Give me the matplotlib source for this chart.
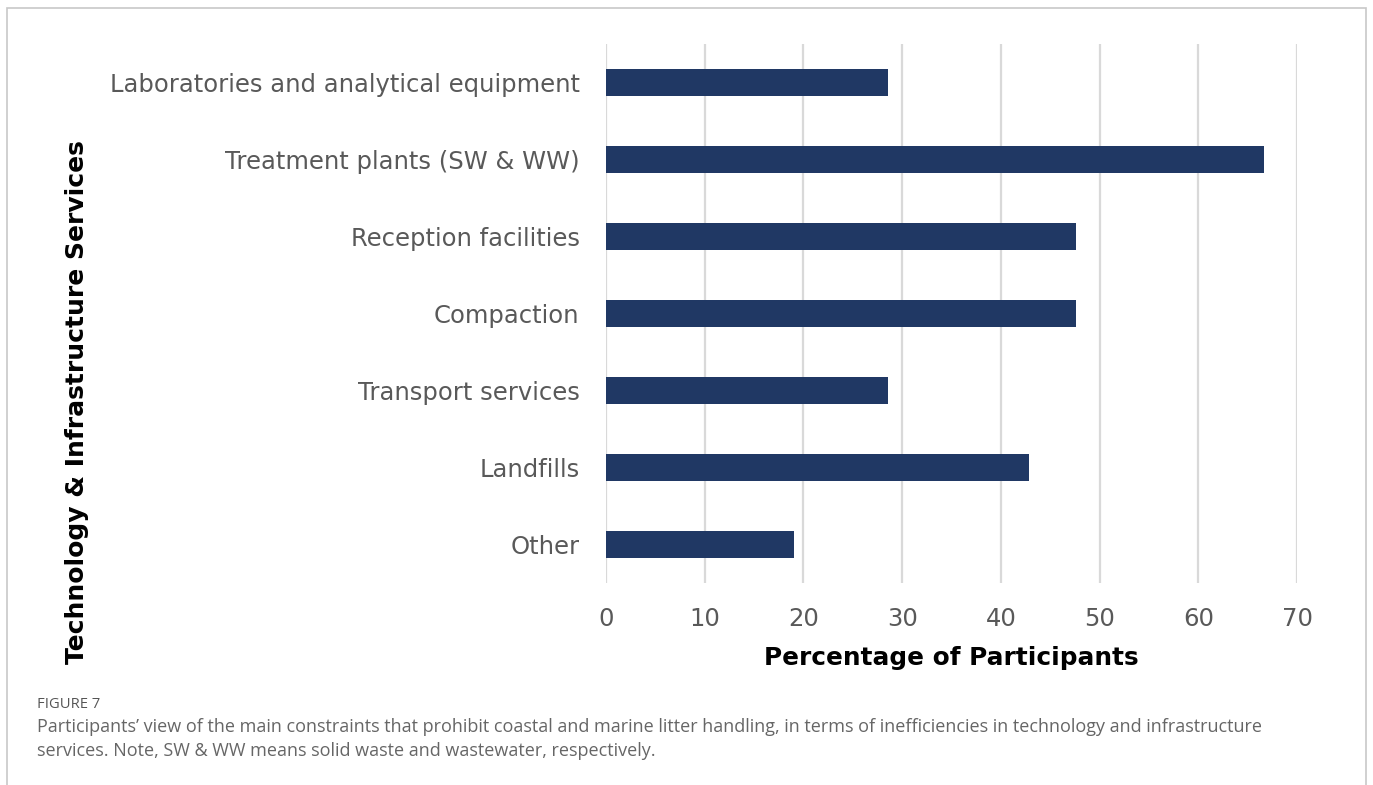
import matplotlib.pyplot as plt
from matplotlib.patches import Rectangle

categories = ['Laboratories and analytical equipment', 'Treatment plants (SW & WW)',
              'Reception facilities', 'Compaction', 'Transport services',
              'Landfills', 'Other']
values = [28.6, 66.7, 47.6, 47.6, 28.6, 42.9, 19.0]
xticks = [0, 10, 20, 30, 40, 50, 60, 70]

fig = plt.figure(figsize=(13.73, 7.85), dpi=100)
ax = fig.add_axes([606/1373, 1-583/785, (1297-606)/1373, (583-44)/785])

y = list(range(len(categories)))
ax.barh(y, values, height=0.36, color='#203864', zorder=3)
ax.set_ylim(len(categories)-0.5, -0.5)
ax.set_xlim(0, 70)
ax.set_xticks(xticks)
ax.set_yticks(y)
ax.set_yticklabels(categories)
ax.tick_params(length=0, labelsize=17.5, labelcolor='#595959')
ax.tick_params(axis='y', pad=19)
ax.tick_params(axis='x', pad=17)
ax.grid(axis='x', color='#d9d9d9', linewidth=1.6, zorder=0)
for s in ax.spines.values():
    s.set_visible(False)

ax.set_xlabel('Percentage of Participants', fontsize=17.8, fontweight='bold', labelpad=11)
fig.text(77/1373, 1-402/785, 'Technology & Infrastructure Services', rotation=90,
         fontsize=18, fontweight='bold', ha='center', va='center')

# outer frame
fig.patches.append(Rectangle((7/1373, -0.1), (1366-7)/1373, 1.1-8/785,
                             transform=fig.transFigure, fill=False,
                             edgecolor='#c8c8c8', linewidth=1.2))

fig.text(37/1373, 1-704/785, 'FIGURE 7', fontsize=10.6, color='#555555',
         family='Open Sans', va='center')
fig.text(37/1373, 1-727/785,
         'Participants\u2019 view of the main constraints that prohibit coastal and marine litter handling, '
         'in terms of inefficiencies in technology and infrastructure',
         fontsize=13, color='#666666', family='Open Sans', va='center')
fig.text(37/1373, 1-751/785,
         'services. Note, SW & WW means solid waste and wastewater, respectively.',
         fontsize=13, color='#666666', family='Open Sans', va='center')

fig.savefig('out.png', dpi=100)
